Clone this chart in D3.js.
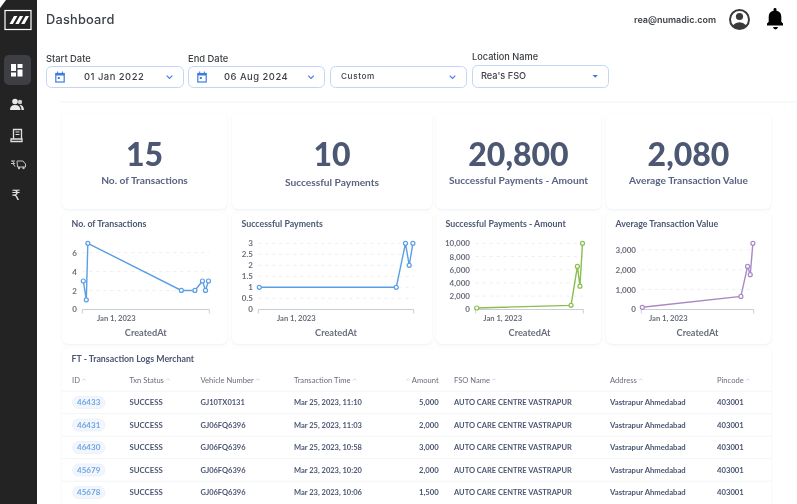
<!DOCTYPE html>
<html>
<head>
<meta charset="utf-8">
<script src="https://cdn.jsdelivr.net/npm/d3@7"></script>
<style>
html, body { margin: 0; padding: 0; background: #fff; overflow: hidden; }
svg { display: block; filter: blur(0.35px); }
text { font-family: Lato, sans-serif; }
.ui text, text.ui { font-family: Inter, sans-serif; }
</style>
</head>
<body>
<svg id="page" width="797" height="504">
  <defs>
    <filter id="soft" x="-5%" y="-5%" width="110%" height="115%"><feGaussianBlur stdDeviation="1.6"/></filter>
  </defs>
</svg>
<script>
// values
var kpiValues = ["15", "10", "20,800", "2,080"];
var kpiLabels = ["No. of Transactions", "Successful Payments", "Successful Payments - Amount", "Average Transaction Value"];

var txDates = ["2023-01-01", "2023-01-03", "2023-01-04", "2023-03-07", "2023-03-16", "2023-03-21", "2023-03-23", "2023-03-25"];
var txCounts = [3, 1, 7, 2, 2, 3, 2, 3];
var payDates = ["2023-01-01", "2023-03-16", "2023-03-21", "2023-03-23", "2023-03-25"];
var payCounts = [1, 1, 3, 2, 3];
var payAmounts = [200, 600, 6500, 3500, 10000];
var payAverages = [100, 650, 2167, 1750, 3333];

var txTicks = [0, 2, 4, 6];
var payTicks = [0, 0.5, 1, 1.5, 2, 2.5, 3];
var amountTicks = [0, 2000, 4000, 6000, 8000, 10000];
var averageTicks = [0, 1000, 2000, 3000];

var tableColumns = ["ID", "Txn Status", "Vehicle Number", "Transaction Time", "Amount", "FSO Name", "Address", "Pincode"];
var rowIds = ["46433", "46431", "46430", "45679", "45678"];
var rowVehicles = ["GJ10TX0131", "GJ06FQ6396", "GJ06FQ6396", "GJ06FQ6396", "GJ06FQ6396"];
var rowTimes = ["Mar 25, 2023, 11:10", "Mar 25, 2023, 11:03", "Mar 25, 2023, 10:58", "Mar 23, 2023, 10:20", "Mar 23, 2023, 10:06"];
var rowAmounts = ["5,000", "2,000", "3,000", "2,000", "1,500"];

var svg = d3.select("#page");
var parseDay = d3.utcParse("%Y-%m-%d");
var textDark = "#4c5773", textGrey = "#696e7b";

function label(g, x, y, str, size, weight, fill, anchor) {
    return g.append("text").attr("x", x).attr("y", y).attr("dy", "0.35em")
        .attr("font-size", size).attr("font-weight", weight).attr("fill", fill)
        .attr("text-anchor", anchor || "start").text(str);
}

function card(x0, x1, y0, y1) {
    svg.append("rect").attr("x", x0).attr("y", y0 + 1).attr("width", x1 - x0).attr("height", y1 - y0)
        .attr("rx", 6).attr("fill", "#dfe2e7").attr("opacity", 0.55).attr("filter", "url(#soft)");
    svg.append("rect").attr("x", x0).attr("y", y0).attr("width", x1 - x0).attr("height", y1 - y0)
        .attr("rx", 6).attr("fill", "#fff");
}

// sidebar
svg.append("path").attr("d", "M0 8 L6 0 H37 V504 H0 Z").attr("fill", "#232323");
svg.append("rect").attr("x", 5).attr("y", 10.5).attr("width", 26).attr("height", 19).attr("fill", "none").attr("stroke", "#fff").attr("stroke-width", 1.2);
[0, 1, 2].forEach(function(i) {
    svg.append("path").attr("d", "M" + (9.5 + i * 5.8) + " 24 L" + (14 + i * 5.8) + " 16 h3.4 L" + (12.9 + i * 5.8) + " 24 Z").attr("fill", "#fff");
});
svg.append("rect").attr("x", 4).attr("y", 55).attr("width", 27).attr("height", 30).attr("rx", 5).attr("fill", "#3d3f44");
svg.append("path").attr("d", "M11 64h5v7h-5z M17.5 64h5v4h-5z M11 72.5h5v4h-5z M17.5 69.5h5v7h-5z").attr("fill", "#fff");
svg.append("circle").attr("cx", 15).attr("cy", 101.5).attr("r", 2.8).attr("fill", "#e8e8e8");
svg.append("circle").attr("cx", 20).attr("cy", 102).attr("r", 2.2).attr("fill", "#cfcfcf");
svg.append("path").attr("d", "M10 110 q0 -5 5 -5 q5 0 5.5 5 Z M21.5 110 q0 -3.5 -2 -5 q4 -0.5 4.5 5 Z").attr("fill", "#e8e8e8");
svg.append("path").attr("d", "M13.5 129.5h8v9.5h-8z M11 139h11v2.5h-11z").attr("fill", "none").attr("stroke", "#e0e0e0").attr("stroke-width", 1.3);
svg.append("path").attr("d", "M15.5 132h4 M15.5 134.5h4").attr("stroke", "#e0e0e0");
svg.append("path").attr("d", "M11 161h4 M11 163.5h4 M12 161q3 1 1 2.6l2 3 M17 161h6l2.5 3v3h-8z").attr("fill", "none").attr("stroke", "#c4c4c4").attr("stroke-width", 1);
svg.append("circle").attr("cx", 19).attr("cy", 168).attr("r", 1.2).attr("fill", "#c4c4c4");
svg.append("circle").attr("cx", 23.5).attr("cy", 168).attr("r", 1.2).attr("fill", "#c4c4c4");
svg.append("text").attr("x", 16).attr("y", 200).attr("text-anchor", "middle").attr("font-size", 14)
    .style("font-family", "DejaVu Sans").attr("fill", "#e0e0e0").text("\u20B9");

// header
var ui = svg.append("g").attr("class", "ui");
label(ui, 46, 19.5, "Dashboard", 12.8, 500, "#3a3f44").attr("letter-spacing", 0.2);
label(ui, 634, 19.5, "rea@numadic.com", 9, 600, "#3a3f44");
svg.append("circle").attr("cx", 739.5).attr("cy", 19.5).attr("r", 9.5).attr("fill", "none").attr("stroke", "#3a3a3a").attr("stroke-width", 2);
svg.append("circle").attr("cx", 739.5).attr("cy", 16.5).attr("r", 3.6).attr("fill", "#3a3a3a");
svg.append("path").attr("d", "M732.5 25.5 q7 -6.5 14 0 q-7 6 -14 0 Z").attr("fill", "#3a3a3a");
svg.append("path").attr("d", "M767 25.5 v-2 l1.7 -1.7 v-5 q0 -5 4.8 -6 v-1.3 a1.5 1.5 0 0 1 3 0 v1.3 q4.8 1 4.8 6 v5 l1.7 1.7 v2 Z M773 27 h5 q-0.5 2.4 -2.5 2.4 t-2.5 -2.4 Z").attr("fill", "#000");

// filters
var accent = "#3d7de0";
function filterBox(x0, x1, y0, y1) {
    ui.append("rect").attr("x", x0 + 0.5).attr("y", y0 + 0.5).attr("width", x1 - x0).attr("height", y1 - y0)
        .attr("rx", 5).attr("fill", "#fff").attr("stroke", "#c3d5f5");
}
function chevron(x, y) {
    ui.append("path").attr("d", "M" + (x - 2.8) + " " + (y - 1.4) + " l2.8 2.8 l2.8 -2.8").attr("fill", "none").attr("stroke", accent).attr("stroke-width", 1.1);
}
function calendar(x, y) {
    ui.append("rect").attr("x", x - 4.2).attr("y", y - 3.5).attr("width", 8.4).attr("height", 8.5).attr("fill", "none").attr("stroke", accent).attr("stroke-width", 1.2);
    ui.append("rect").attr("x", x - 4.2).attr("y", y - 4).attr("width", 8.4).attr("height", 2.5).attr("fill", accent);
    ui.append("path").attr("d", "M" + (x - 2.4) + " " + (y - 5.5) + "v2 M" + (x + 2.4) + " " + (y - 5.5) + "v2").attr("stroke", accent);
    ui.append("rect").attr("x", x - 2.2).attr("y", y).attr("width", 2).attr("height", 2).attr("fill", accent);
}
label(ui, 46, 58.5, "Start Date", 9.4, 500, "#3a3f44");
label(ui, 188, 58.5, "End Date", 9.4, 500, "#3a3f44");
label(ui, 472, 56.5, "Location Name", 9.2, 500, "#3a3f44");
filterBox(46, 183, 66, 87);
filterBox(188, 324, 66, 87);
filterBox(330, 466, 66, 87);
filterBox(472, 608, 65, 87);
calendar(60, 77); calendar(202, 77);
label(ui, 84, 76.5, "01 Jan 2022", 9.4, 500, "#3a3f44").attr("letter-spacing", 0.5);
label(ui, 224, 76.5, "06 Aug 2024", 9.4, 500, "#3a3f44").attr("letter-spacing", 0.5);
label(ui, 341, 76, "Custom", 8.2, 500, "#3a3f44").attr("letter-spacing", 0.6);
label(ui, 481, 75.5, "Rea's FSO", 9.2, 500, "#3a3f44");
chevron(169.5, 77); chevron(311, 77); chevron(452.5, 77);
ui.append("path").attr("d", "M592.5 75 h5.4 l-2.7 2.8 Z").attr("fill", accent);
svg.append("rect").attr("x", 60).attr("y", 101.5).attr("width", 737).attr("height", 1).attr("fill", "#f2f3f5");

// kpi cards
var kpiBoxes = [[62, 227], [232, 432], [436, 601], [606, 771]];
var kpiLabelY = [180, 182, 180.3, 180.3];
kpiBoxes.forEach(function(b, i) {
    card(b[0], b[1], 113, 209);
    var cx = (b[0] + b[1]) / 2;
    label(svg, cx, 155, kpiValues[i], 32, 900, textDark, "middle");
    label(svg, cx, kpiLabelY[i], kpiLabels[i], 10.2, 700, "#5a6480", "middle");
});

// line charts
function lineChart(opt) {
    card(opt.box[0], opt.box[1], 213, 344);
    label(svg, opt.titleX, 224, opt.title, 8.8, 700, textDark);

    var rows = opt.dates.map(function(d, i) { return { date: parseDay(d), value: opt.values[i] }; });
    var x = d3.scaleTime()
        .domain(d3.extent(rows, function(d) { return d.date; }))
        .range([opt.x0 + 1, opt.x1 - 0.8]);
    var y = d3.scaleLinear().domain([0, d3.max(rows.map(function(d) { return d.value; }))]).range([309.3, 243.3]);

    var g = svg.append("g");
    opt.ticks.slice(1).forEach(function(t) {
        g.append("line").attr("x1", opt.x0).attr("x2", opt.x1).attr("y1", y(t)).attr("y2", y(t))
            .attr("stroke", "#eceef1").attr("stroke-dasharray", "3,4");
    });

    var yAxis = d3.axisLeft(y).tickValues(opt.ticks).tickSize(0).tickPadding(0).tickFormat(d3.format(","));
    var ya = g.append("g").attr("transform", "translate(" + opt.labelX + ",0)").call(yAxis);
    ya.select(".domain").remove();
    ya.selectAll("text").attr("font-family", "Lato").attr("font-size", 8).attr("font-weight", 700).attr("fill", textGrey);

    var xAxis = d3.axisBottom(x).tickValues(x.domain()).tickSize(4).tickFormat("");
    var xa = g.append("g").attr("transform", "translate(0,309.5)").call(xAxis);
    xa.select(".domain").attr("d", "M" + opt.x0 + ",4V0H" + opt.x1 + "V4").attr("stroke", "#c9ced6");
    xa.selectAll(".tick").remove();

    label(g, x(parseDay("2023-01-01")) + opt.tickOffset, 318, "Jan 1, 2023", 7.6, 700, textGrey, "middle");
    label(g, (opt.x0 + opt.x1) / 2, 332.7, "CreatedAt", 9.2, 700, textGrey, "middle");

    var line = d3.line().x(function(d) { return x(d.date); }).y(function(d) { return y(d.value); });
    g.append("path").datum(rows).attr("d", line).attr("fill", "none").attr("stroke", opt.color).attr("stroke-width", 1.4);
    g.selectAll("circle").data(rows).enter().append("circle")
        .attr("cx", function(d) { return x(d.date); })
        .attr("cy", function(d) { return y(d.value); })
        .attr("r", 2)
        .attr("fill", "#fff").attr("stroke", opt.color).attr("stroke-width", 1.2);
}

lineChart({ box: [62, 227], title: kpiLabels[0], titleX: 71.5, dates: txDates, values: txCounts, ticks: txTicks, x0: 82.3, x1: 209.3, labelX: 77, tickOffset: 33, color: "#5a9ee3" });
lineChart({ box: [232, 432], title: kpiLabels[1], titleX: 241.5, dates: payDates, values: payCounts, ticks: payTicks, x0: 258.3, x1: 413.7, labelX: 253, tickOffset: 37, color: "#5a9ee3" });
lineChart({ box: [436, 601], title: kpiLabels[2], titleX: 445.5, dates: payDates, values: payAmounts, ticks: amountTicks, x0: 475.7, x1: 583.3, labelX: 470, tickOffset: 26, color: "#88bf4d" });
lineChart({ box: [606, 771], title: kpiLabels[3], titleX: 615.5, dates: payDates, values: payAverages, ticks: averageTicks, x0: 641.3, x1: 753.7, labelX: 636, tickOffset: 26, color: "#a989c5" });

// table
card(62, 771, 348, 520);
label(svg, 71.5, 359, "FT - Transaction Logs Merchant", 8.8, 700, textDark);
var colX = [72, 129.5, 200.5, 294, 438.7, 454, 610, 717];
tableColumns.forEach(function(c, i) {
    var isAmount = c === "Amount";
    var t = label(svg, colX[i], 380, c, 7.6, 400, textGrey, isAmount ? "end" : "start");
    var w = t.node().getComputedTextLength();
    var cx = isAmount ? colX[i] - w - 3.5 : colX[i] + w + 4;
    svg.append("path").attr("d", "M" + (cx - 1.8) + " 380.5 l1.8 -1.8 l1.8 1.8").attr("fill", "none").attr("stroke", "#c9ced6").attr("stroke-width", 0.8);
});
var rowY = d3.scaleLinear().domain([0, 1]).range([402.5, 425]);
rowIds.forEach(function(id, i) {
    var yy = rowY(i);
    svg.append("line").attr("x1", 62).attr("x2", 771).attr("y1", yy - 11.3).attr("y2", yy - 11.3).attr("stroke", "#f3f4f6");
    svg.append("rect").attr("x", 72.5).attr("y", yy - 6).attr("width", 32.5).attr("height", 12).attr("rx", 6)
        .attr("fill", "#f2f6fc").attr("stroke", "#e4ecf7").attr("stroke-width", 0.6);
    label(svg, 88.7, yy, id, 8, 700, "#6ea7e6", "middle");
    label(svg, colX[1], yy, "SUCCESS", 7.8, 700, textDark);
    label(svg, colX[2], yy, rowVehicles[i], 7.5, 700, textDark);
    label(svg, colX[3], yy, rowTimes[i], 7.5, 700, textDark);
    label(svg, colX[4], yy, rowAmounts[i], 7.7, 700, textDark, "end");
    label(svg, colX[5], yy, "AUTO CARE CENTRE VASTRAPUR", 7.5, 700, textDark);
    label(svg, colX[6], yy, "Vastrapur Ahmedabad", 7.7, 700, textDark);
    label(svg, colX[7], yy, "403001", 7.7, 700, textDark);
});
</script>
</body>
</html>
